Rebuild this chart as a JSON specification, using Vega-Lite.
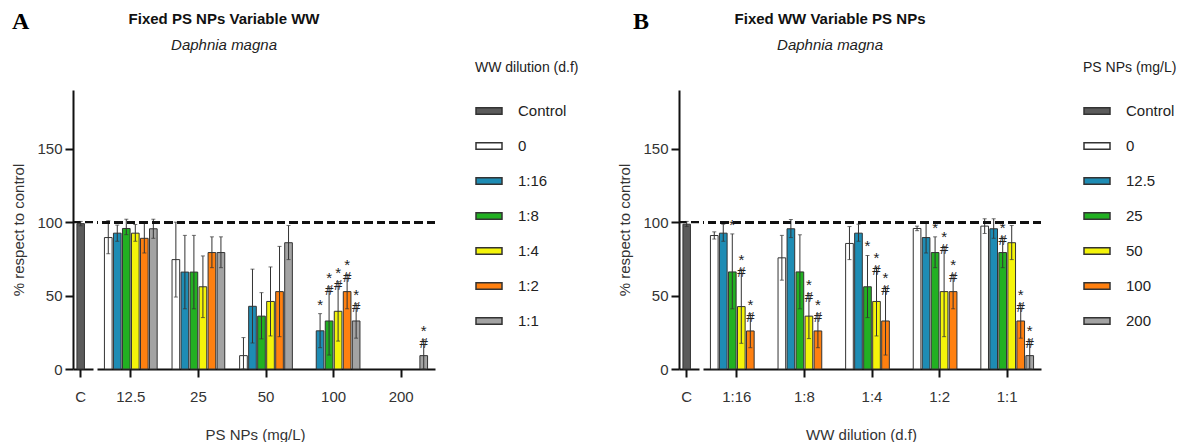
{
  "$schema": "https://vega.github.io/schema/vega-lite/v6.json",
  "padding": {"left": 11, "top": 10, "right": 0, "bottom": 0},
  "datasets": {
    "a": [
      {"grp": "C", "ser": "Control", "mean": 99, "lo": 97.5, "hi": 100.5},
      {"grp": "12.5", "ser": "0", "mean": 89.5, "lo": 78.5, "hi": 101},
      {"grp": "12.5", "ser": "1:16", "mean": 92.5, "lo": 87, "hi": 98},
      {"grp": "12.5", "ser": "1:8", "mean": 95.7, "lo": 91.5, "hi": 102},
      {"grp": "12.5", "ser": "1:4", "mean": 92.5, "lo": 87, "hi": 98.4},
      {"grp": "12.5", "ser": "1:2", "mean": 89, "lo": 79, "hi": 99.5},
      {"grp": "12.5", "ser": "1:1", "mean": 95.5, "lo": 89, "hi": 102},
      {"grp": "25", "ser": "0", "mean": 74.5, "lo": 49, "hi": 100},
      {"grp": "25", "ser": "1:16", "mean": 66, "lo": 41, "hi": 91},
      {"grp": "25", "ser": "1:8", "mean": 66, "lo": 41, "hi": 91},
      {"grp": "25", "ser": "1:4", "mean": 56, "lo": 35, "hi": 77},
      {"grp": "25", "ser": "1:2", "mean": 79.3, "lo": 69, "hi": 90},
      {"grp": "25", "ser": "1:1", "mean": 79.3, "lo": 69, "hi": 90},
      {"grp": "50", "ser": "0", "mean": 9.1, "lo": 0, "hi": 21.4},
      {"grp": "50", "ser": "1:16", "mean": 42.7, "lo": 17.7, "hi": 68},
      {"grp": "50", "ser": "1:8", "mean": 36, "lo": 20.5, "hi": 52},
      {"grp": "50", "ser": "1:4", "mean": 46, "lo": 22.5, "hi": 69.5},
      {"grp": "50", "ser": "1:2", "mean": 52.7, "lo": 22, "hi": 83.5},
      {"grp": "50", "ser": "1:1", "mean": 86, "lo": 74.5, "hi": 97.7},
      {"grp": "100", "ser": "1:16", "mean": 26, "lo": 14.5, "hi": 37.7, "sig": "*"},
      {"grp": "100", "ser": "1:8", "mean": 32.7, "lo": 9.5, "hi": 56, "sig": "*\n#"},
      {"grp": "100", "ser": "1:4", "mean": 39.3, "lo": 19, "hi": 59.5, "sig": "*\n#"},
      {"grp": "100", "ser": "1:2", "mean": 52.7, "lo": 41, "hi": 64.5, "sig": "*\n#"},
      {"grp": "100", "ser": "1:1", "mean": 32.7, "lo": 21, "hi": 44.5, "sig": "*\n#"},
      {"grp": "200", "ser": "1:1", "mean": 9.1, "lo": 0, "hi": 20, "sig": "*\n#"}
    ],
    "b": [
      {"grp": "C", "ser": "Control", "mean": 98.6, "lo": 97, "hi": 100.5},
      {"grp": "1:16", "ser": "0", "mean": 90.9, "lo": 88.5, "hi": 93.4},
      {"grp": "1:16", "ser": "12.5", "mean": 92.5, "lo": 87, "hi": 98.6},
      {"grp": "1:16", "ser": "25", "mean": 66.1, "lo": 41, "hi": 92, "sig": "*"},
      {"grp": "1:16", "ser": "50", "mean": 42.5, "lo": 17.5, "hi": 68, "sig": "*\n#"},
      {"grp": "1:16", "ser": "100", "mean": 25.9, "lo": 14.5, "hi": 37.7, "sig": "*\n#"},
      {"grp": "1:8", "ser": "0", "mean": 75.7, "lo": 60.5, "hi": 91},
      {"grp": "1:8", "ser": "12.5", "mean": 95.5, "lo": 89.5, "hi": 101.8},
      {"grp": "1:8", "ser": "25", "mean": 66.1, "lo": 41, "hi": 91.4},
      {"grp": "1:8", "ser": "50", "mean": 36, "lo": 20.7, "hi": 51.4, "sig": "*\n#"},
      {"grp": "1:8", "ser": "100", "mean": 25.9, "lo": 14.5, "hi": 37.7, "sig": "*\n#"},
      {"grp": "1:4", "ser": "0", "mean": 85.5, "lo": 74.5, "hi": 97},
      {"grp": "1:4", "ser": "12.5", "mean": 92.5, "lo": 87, "hi": 98.6},
      {"grp": "1:4", "ser": "25", "mean": 56, "lo": 35, "hi": 77.3, "sig": "*"},
      {"grp": "1:4", "ser": "50", "mean": 46, "lo": 22.5, "hi": 69.5, "sig": "*\n#"},
      {"grp": "1:4", "ser": "100", "mean": 32.7, "lo": 9.5, "hi": 56, "sig": "*\n#"},
      {"grp": "1:2", "ser": "0", "mean": 95.7, "lo": 94.2, "hi": 97.3},
      {"grp": "1:2", "ser": "12.5", "mean": 89.5, "lo": 79, "hi": 100},
      {"grp": "1:2", "ser": "25", "mean": 79.3, "lo": 69, "hi": 90, "sig": "*"},
      {"grp": "1:2", "ser": "50", "mean": 52.7, "lo": 22, "hi": 83.5, "sig": "*\n#"},
      {"grp": "1:2", "ser": "100", "mean": 52.7, "lo": 41, "hi": 64.5, "sig": "*\n#"},
      {"grp": "1:1", "ser": "0", "mean": 97.3, "lo": 92.3, "hi": 102.3},
      {"grp": "1:1", "ser": "12.5", "mean": 95.5, "lo": 89, "hi": 102.3},
      {"grp": "1:1", "ser": "25", "mean": 79.3, "lo": 69, "hi": 90, "sig": "*\n#"},
      {"grp": "1:1", "ser": "50", "mean": 86, "lo": 74.5, "hi": 97.7},
      {"grp": "1:1", "ser": "100", "mean": 32.7, "lo": 21, "hi": 44.5, "sig": "*\n#"},
      {"grp": "1:1", "ser": "200", "mean": 9.1, "lo": 0, "hi": 20, "sig": "*\n#"}
    ]
  },
  "spacing": 38,
  "resolve": {"scale": {"color": "independent", "xOffset": "independent"}},
  "hconcat": [
    {
      "title": {"text": "A", "anchor": "start", "frame": "bounds", "font": "Liberation Serif", "fontSize": 24, "fontWeight": "bold", "color": "#000", "offset": -22},
      "resolve": {"scale": {"xOffset": "independent"}},
      "hconcat": [
        {
          "title": {"text": "Fixed PS NPs Variable WW", "subtitle": "Daphnia magna", "frame": "bounds", "anchor": "middle", "offset": 37},
          "spacing": 0,
          "resolve": {"scale": {"xOffset": "independent"}},
          "data": {"name": "a"},
          "hconcat": [
            {
              "width": 20, "height": 279,
              "transform": [{"filter": "datum.grp == 'C'"}],
              "layer": [
                {
                  "mark": {"type": "bar", "width": 7.5, "stroke": "#333", "strokeWidth": 1},
                  "encoding": {
                    "x": {"field": "grp", "type": "nominal", "scale": {"type": "band", "domain": ["C"], "paddingInner": 0, "paddingOuter": 0.15, "align": 0}, "axis": {"title": null, "labelAngle": 0, "labelPadding": 12}},
                    "y": {"field": "mean", "type": "quantitative", "scale": {"domain": [0, 190], "nice": false}, "axis": {"values": [0, 50, 100, 150], "title": "% respect to control", "titlePadding": 10, "labelPadding": 3}},
                    "color": {"field": "ser", "type": "nominal", "scale": {"domain": ["Control", "0", "1:16", "1:8", "1:4", "1:2", "1:1"], "range": ["#5b5b5b", "#ffffff", "#1e8cb4", "#22b022", "#f4f40a", "#ff8010", "#a3a3a3"]}, "legend": {"title": "WW dilution (d.f)", "orient": "none", "legendX": 402, "legendY": -29}}
                  }
                },
                {"mark": {"type": "rule", "color": "#333", "strokeWidth": 1}, "encoding": {"x": {"field": "grp", "type": "nominal"}, "y": {"field": "lo", "type": "quantitative"}, "y2": {"field": "hi"}}},
                {"mark": {"type": "tick", "orient": "horizontal", "size": 4, "thickness": 1, "color": "#333"}, "encoding": {"x": {"field": "grp", "type": "nominal"}, "y": {"field": "hi", "type": "quantitative"}}},
                {"mark": {"type": "tick", "orient": "horizontal", "size": 4, "thickness": 1, "color": "#333"}, "encoding": {"x": {"field": "grp", "type": "nominal"}, "y": {"field": "lo", "type": "quantitative"}}},
                {"mark": {"type": "rule", "strokeDash": [8, 4.5], "strokeWidth": 2.2, "color": "#111"}, "encoding": {"y": {"datum": 100}}}
              ]
            },
            {
              "width": 338, "height": 279,
              "transform": [{"filter": "datum.grp != 'C'"}],
              "layer": [
                {
                  "mark": {"type": "bar", "stroke": "#333", "strokeWidth": 1},
                  "encoding": {
                    "x": {"field": "grp", "type": "nominal", "sort": null, "scale": {"type": "band", "domain": ["12.5", "25", "50", "100", "200"], "paddingInner": 0.22, "paddingOuter": 0.11}, "axis": {"title": "PS NPs (mg/L)", "labelAngle": 0, "labelPadding": 12, "titlePadding": 23, "titleX": 158}},
                    "xOffset": {"field": "ser", "type": "nominal", "scale": {"type": "band", "domain": ["0", "1:16", "1:8", "1:4", "1:2", "1:1"], "paddingInner": 0.15}},
                    "y": {"field": "mean", "type": "quantitative", "scale": {"domain": [0, 190], "nice": false}, "axis": null},
                    "color": {"field": "ser", "type": "nominal", "scale": {"domain": ["Control", "0", "1:16", "1:8", "1:4", "1:2", "1:1"], "range": ["#5b5b5b", "#ffffff", "#1e8cb4", "#22b022", "#f4f40a", "#ff8010", "#a3a3a3"]}, "legend": {"title": "WW dilution (d.f)", "orient": "none", "legendX": 402, "legendY": -29}}
                  }
                },
                {"mark": {"type": "rule", "color": "#333", "strokeWidth": 1}, "encoding": {"x": {"field": "grp", "type": "nominal"}, "xOffset": {"field": "ser", "type": "nominal"}, "y": {"field": "lo", "type": "quantitative", "axis": null}, "y2": {"field": "hi"}}},
                {"mark": {"type": "tick", "orient": "horizontal", "size": 4, "thickness": 1, "color": "#333"}, "encoding": {"x": {"field": "grp", "type": "nominal"}, "xOffset": {"field": "ser", "type": "nominal"}, "y": {"field": "hi", "type": "quantitative", "axis": null}}},
                {"mark": {"type": "tick", "orient": "horizontal", "size": 4, "thickness": 1, "color": "#333"}, "encoding": {"x": {"field": "grp", "type": "nominal"}, "xOffset": {"field": "ser", "type": "nominal"}, "y": {"field": "lo", "type": "quantitative", "axis": null}}},
                {"mark": {"type": "rule", "strokeDash": [8, 4.5], "strokeWidth": 2.2, "color": "#111"}, "encoding": {"y": {"datum": 100, "axis": null}}},
                {"transform": [{"filter": "datum.sig"}], "mark": {"type": "text", "baseline": "bottom", "dy": -1, "lineBreak": "\n", "fontSize": 15, "lineHeight": 12, "font": "Liberation Sans", "color": "#222"}, "encoding": {"x": {"field": "grp", "type": "nominal"}, "xOffset": {"field": "ser", "type": "nominal"}, "y": {"field": "hi", "type": "quantitative", "axis": null}, "text": {"field": "sig"}}}
              ]
            }
          ]
        }
      ]
    },
    {
      "title": {"text": "B", "anchor": "start", "frame": "bounds", "font": "Liberation Serif", "fontSize": 24, "fontWeight": "bold", "color": "#000", "offset": -22, "dx": 15},
      "resolve": {"scale": {"xOffset": "independent"}},
      "hconcat": [
        {
          "title": {"text": "Fixed WW Variable PS NPs", "subtitle": "Daphnia magna", "frame": "bounds", "anchor": "middle", "offset": 37},
          "spacing": 0,
          "resolve": {"scale": {"xOffset": "independent"}},
          "data": {"name": "b"},
          "hconcat": [
            {
              "width": 20, "height": 279,
              "transform": [{"filter": "datum.grp == 'C'"}],
              "layer": [
                {
                  "mark": {"type": "bar", "width": 7.5, "stroke": "#333", "strokeWidth": 1},
                  "encoding": {
                    "x": {"field": "grp", "type": "nominal", "scale": {"type": "band", "domain": ["C"], "paddingInner": 0, "paddingOuter": 0.15, "align": 0}, "axis": {"title": null, "labelAngle": 0, "labelPadding": 12}},
                    "y": {"field": "mean", "type": "quantitative", "scale": {"domain": [0, 190], "nice": false}, "axis": {"values": [0, 50, 100, 150], "title": "% respect to control", "titlePadding": 10, "labelPadding": 3}},
                    "color": {"field": "ser", "type": "nominal", "scale": {"domain": ["Control", "0", "12.5", "25", "50", "100", "200"], "range": ["#5b5b5b", "#ffffff", "#1e8cb4", "#22b022", "#f4f40a", "#ff8010", "#a3a3a3"]}, "legend": {"title": "PS NPs (mg/L)", "orient": "none", "legendX": 404, "legendY": -29}}
                  }
                },
                {"mark": {"type": "rule", "color": "#333", "strokeWidth": 1}, "encoding": {"x": {"field": "grp", "type": "nominal"}, "y": {"field": "lo", "type": "quantitative"}, "y2": {"field": "hi"}}},
                {"mark": {"type": "tick", "orient": "horizontal", "size": 4, "thickness": 1, "color": "#333"}, "encoding": {"x": {"field": "grp", "type": "nominal"}, "y": {"field": "hi", "type": "quantitative"}}},
                {"mark": {"type": "tick", "orient": "horizontal", "size": 4, "thickness": 1, "color": "#333"}, "encoding": {"x": {"field": "grp", "type": "nominal"}, "y": {"field": "lo", "type": "quantitative"}}},
                {"mark": {"type": "rule", "strokeDash": [8, 4.5], "strokeWidth": 2.2, "color": "#111"}, "encoding": {"y": {"datum": 100}}}
              ]
            },
            {
              "width": 338, "height": 279,
              "transform": [{"filter": "datum.grp != 'C'"}],
              "layer": [
                {
                  "mark": {"type": "bar", "stroke": "#333", "strokeWidth": 1},
                  "encoding": {
                    "x": {"field": "grp", "type": "nominal", "sort": null, "scale": {"type": "band", "domain": ["1:16", "1:8", "1:4", "1:2", "1:1"], "paddingInner": 0.22, "paddingOuter": 0.11}, "axis": {"title": "WW dilution (d.f)", "labelAngle": 0, "labelPadding": 12, "titlePadding": 23, "titleX": 158}},
                    "xOffset": {"field": "ser", "type": "nominal", "scale": {"type": "band", "domain": ["0", "12.5", "25", "50", "100", "200"], "paddingInner": 0.15}},
                    "y": {"field": "mean", "type": "quantitative", "scale": {"domain": [0, 190], "nice": false}, "axis": null},
                    "color": {"field": "ser", "type": "nominal", "scale": {"domain": ["Control", "0", "12.5", "25", "50", "100", "200"], "range": ["#5b5b5b", "#ffffff", "#1e8cb4", "#22b022", "#f4f40a", "#ff8010", "#a3a3a3"]}, "legend": {"title": "PS NPs (mg/L)", "orient": "none", "legendX": 404, "legendY": -29}}
                  }
                },
                {"mark": {"type": "rule", "color": "#333", "strokeWidth": 1}, "encoding": {"x": {"field": "grp", "type": "nominal"}, "xOffset": {"field": "ser", "type": "nominal"}, "y": {"field": "lo", "type": "quantitative", "axis": null}, "y2": {"field": "hi"}}},
                {"mark": {"type": "tick", "orient": "horizontal", "size": 4, "thickness": 1, "color": "#333"}, "encoding": {"x": {"field": "grp", "type": "nominal"}, "xOffset": {"field": "ser", "type": "nominal"}, "y": {"field": "hi", "type": "quantitative", "axis": null}}},
                {"mark": {"type": "tick", "orient": "horizontal", "size": 4, "thickness": 1, "color": "#333"}, "encoding": {"x": {"field": "grp", "type": "nominal"}, "xOffset": {"field": "ser", "type": "nominal"}, "y": {"field": "lo", "type": "quantitative", "axis": null}}},
                {"mark": {"type": "rule", "strokeDash": [8, 4.5], "strokeWidth": 2.2, "color": "#111"}, "encoding": {"y": {"datum": 100, "axis": null}}},
                {"transform": [{"filter": "datum.sig"}], "mark": {"type": "text", "baseline": "bottom", "dy": -1, "lineBreak": "\n", "fontSize": 15, "lineHeight": 12, "font": "Liberation Sans", "color": "#222"}, "encoding": {"x": {"field": "grp", "type": "nominal"}, "xOffset": {"field": "ser", "type": "nominal"}, "y": {"field": "hi", "type": "quantitative", "axis": null}, "text": {"field": "sig"}}}
              ]
            }
          ]
        }
      ]
    }
  ],
  "config": {
    "view": {"stroke": null},
    "axis": {"domainColor": "#111", "domainWidth": 2, "tickColor": "#111", "tickWidth": 2, "tickSize": 8, "labelFont": "Liberation Sans", "labelFontSize": 15, "labelColor": "#333", "titleFont": "Liberation Sans", "titleFontSize": 15, "titleFontWeight": "normal", "titleColor": "#333", "grid": false},
    "legend": {"symbolType": "M-1,-0.25H1V0.25H-1Z", "symbolSize": 676, "symbolStrokeWidth": 1.5, "labelFont": "Liberation Sans", "labelFontSize": 15, "labelColor": "#222", "labelOffset": 15, "titleFont": "Liberation Sans", "titleFontSize": 14, "titleFontWeight": "normal", "titleColor": "#222", "rowPadding": 13, "titlePadding": 22},
    "title": {"font": "Liberation Sans", "fontSize": 15, "fontWeight": "bold", "color": "#111", "subtitleFont": "Liberation Sans", "subtitleFontSize": 15, "subtitleFontStyle": "italic", "subtitleColor": "#222", "subtitlePadding": 11}
  }
}
